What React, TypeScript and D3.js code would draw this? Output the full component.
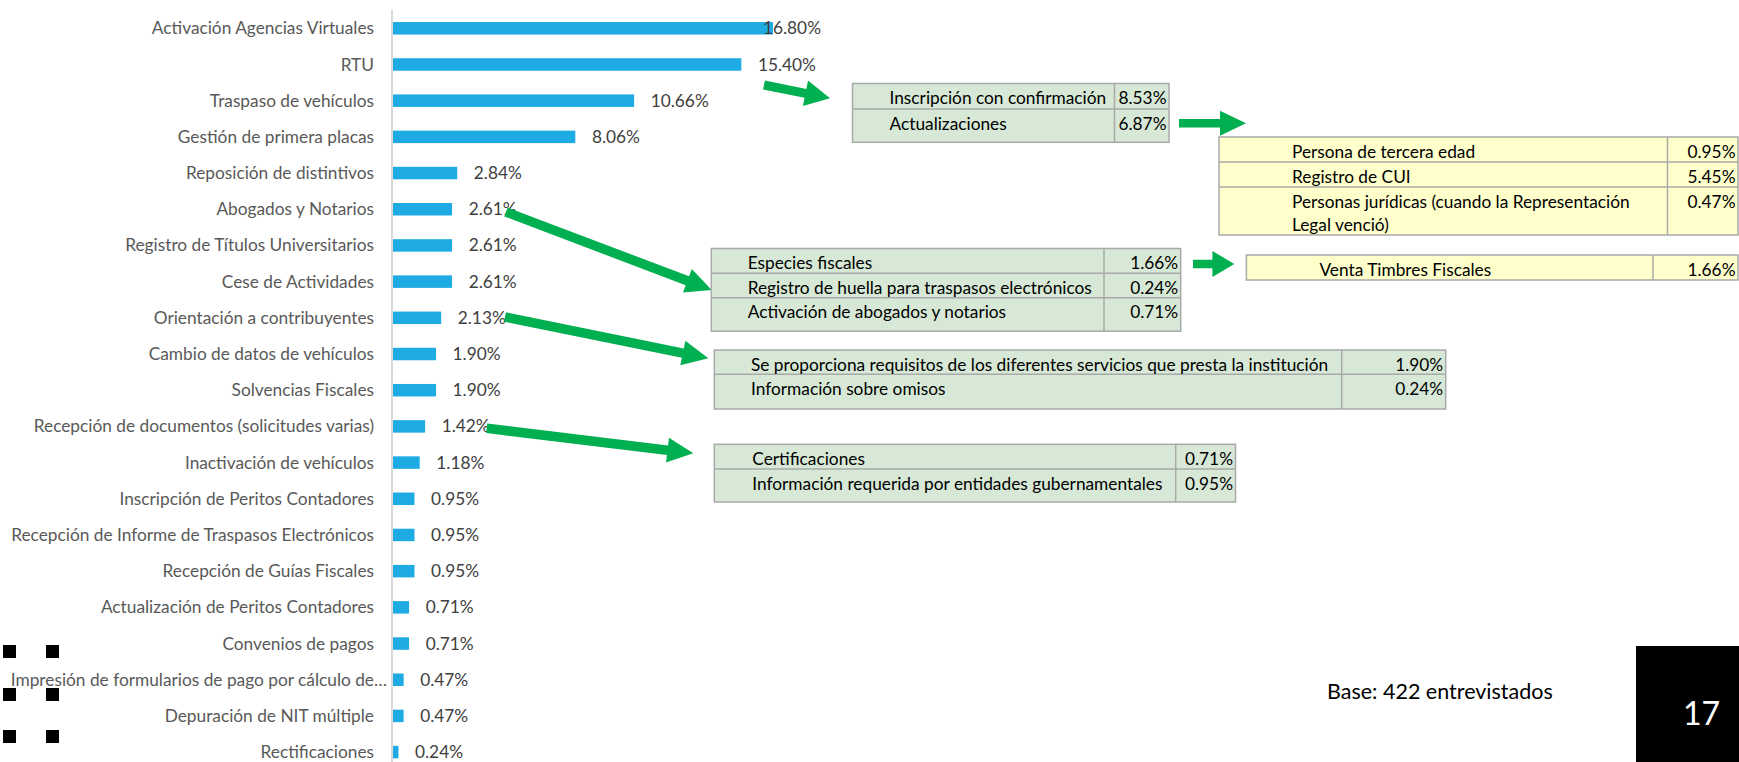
import React from "react";
import * as d3 from "d3";

// ---------- data ----------
const categories = [
  "Activación Agencias Virtuales",
  "RTU",
  "Traspaso de vehículos",
  "Gestión de primera placas",
  "Reposición de distintivos",
  "Abogados y Notarios",
  "Registro de Títulos Universitarios",
  "Cese de Actividades",
  "Orientación a contribuyentes",
  "Cambio de datos de vehículos",
  "Solvencias Fiscales",
  "Recepción de documentos (solicitudes varias)",
  "Inactivación de vehículos",
  "Inscripción de Peritos Contadores",
  "Recepción de Informe de Traspasos Electrónicos",
  "Recepción de Guías Fiscales",
  "Actualización de Peritos Contadores",
  "Convenios de pagos",
  "Impresión de formularios de pago por cálculo de",
  "Depuración de NIT múltiple",
  "Rectificaciones",
];
const values = [16.8, 15.4, 10.66, 8.06, 2.84, 2.61, 2.61, 2.61, 2.13, 1.9, 1.9, 1.42, 1.18, 0.95, 0.95, 0.95, 0.71, 0.71, 0.47, 0.47, 0.24];
const truncatedCategories = ["Impresión de formularios de pago por cálculo de"];

const rtuLabels = ["Inscripción con confirmación", "Actualizaciones"];
const rtuValues = [8.53, 6.87];
const actualizacionesLabels = ["Persona de tercera edad", "Registro de CUI", "Personas jurídicas (cuando la Representación Legal venció)"];
const actualizacionesValues = [0.95, 5.45, 0.47];
const abogadosLabels = ["Especies fiscales", "Registro de huella para traspasos electrónicos", "Activación de abogados y notarios"];
const abogadosValues = [1.66, 0.24, 0.71];
const especiesLabels = ["Venta Timbres Fiscales"];
const especiesValues = [1.66];
const orientacionLabels = ["Se proporciona requisitos de los diferentes servicios que presta la institución", "Información sobre omisos"];
const orientacionValues = [1.9, 0.24];
const recepcionLabels = ["Certificaciones", "Información requerida por entidades gubernamentales"];
const recepcionValues = [0.71, 0.95];

const baseText = "Base: 422 entrevistados";
const pageNumber = "17";

// ---------- style / layout ----------
const W = 1739;
const H = 762;
const FONT = "Lato, 'Open Sans', sans-serif";
const FS = 17.3;
const BAR = "#1eaae2";
const GREEN_FILL = "#d7e9d6";
const YELLOW_FILL = "#ffffcc";
const GRID = "#a9a9a9";
const ARROW = "#00b050";

const fmt = (v: number) => d3.format(".2f")(v) + "%";

type TableSpec = {
  labels: string[];
  values: number[];
  x: number; right: number; col: number; top: number;
  rows: number[]; textOff: number; fill: string; wrap?: number;
};

const tables: TableSpec[] = [
  { labels: rtuLabels, values: rtuValues, x: 852.5, right: 1169, col: 1114.5, top: 83.5, rows: [25.5, 33.3], textOff: 37, fill: GREEN_FILL },
  { labels: actualizacionesLabels, values: actualizacionesValues, x: 1219, right: 1738, col: 1667.5, top: 137, rows: [25, 25, 48], textOff: 73, fill: YELLOW_FILL, wrap: 44 },
  { labels: abogadosLabels, values: abogadosValues, x: 711.3, right: 1180.7, col: 1104, top: 248.5, rows: [24.8, 24.4, 33.5], textOff: 36.4, fill: GREEN_FILL },
  { labels: especiesLabels, values: especiesValues, x: 1246.4, right: 1738, col: 1653, top: 255, rows: [25], textOff: 73, fill: YELLOW_FILL },
  { labels: orientacionLabels, values: orientacionValues, x: 714.3, right: 1445.7, col: 1341.7, top: 350, rows: [24.3, 34.7], textOff: 36.7, fill: GREEN_FILL },
  { labels: recepcionLabels, values: recepcionValues, x: 714.3, right: 1235.5, col: 1175.7, top: 444.3, rows: [24.7, 33], textOff: 38, fill: GREEN_FILL },
];

type ArrowSpec = { x1: number; y1: number; x2: number; y2: number; shaft: number; headW: number; headL: number };
const arrows: ArrowSpec[] = [
  { x1: 764, y1: 85, x2: 830, y2: 98.3, shaft: 9, headW: 26, headL: 25 },
  { x1: 1179, y1: 123.3, x2: 1246, y2: 123.3, shaft: 8.5, headW: 25, headL: 26 },
  { x1: 1193, y1: 264, x2: 1234.4, y2: 264, shaft: 8.5, headW: 26, headL: 22 },
  { x1: 506, y1: 212, x2: 711.7, y2: 290, shaft: 9.5, headW: 25, headL: 26 },
  { x1: 505, y1: 317, x2: 708.3, y2: 358.3, shaft: 9.5, headW: 25, headL: 26 },
  { x1: 486.7, y1: 428.3, x2: 693.3, y2: 453.3, shaft: 9.5, headW: 25, headL: 26 },
];

function arrowPath(a: ArrowSpec) {
  const dx = a.x2 - a.x1, dy = a.y2 - a.y1;
  const L = Math.hypot(dx, dy);
  const ux = dx / L, uy = dy / L;
  const nx = -uy, ny = ux;
  const bx = a.x2 - ux * a.headL, by = a.y2 - uy * a.headL;
  const s = a.shaft / 2, h = a.headW / 2;
  const pts: [number, number][] = [
    [a.x1 + nx * s, a.y1 + ny * s],
    [bx + nx * s, by + ny * s],
    [bx + nx * h, by + ny * h],
    [a.x2, a.y2],
    [bx - nx * h, by - ny * h],
    [bx - nx * s, by - ny * s],
    [a.x1 - nx * s, a.y1 - ny * s],
  ];
  return d3.line()(pts) + "Z";
}

function wrapText(t: string, n?: number): string[] {
  if (!n || t.length <= n) return [t];
  const words = t.split(" ");
  const lines: string[] = [];
  let cur = "";
  for (const w of words) {
    const next = cur ? cur + " " + w : w;
    if (next.length > n && cur) { lines.push(cur); cur = w; } else cur = next;
  }
  if (cur) lines.push(cur);
  return lines;
}

function SubTable({ t }: { t: TableSpec }) {
  const tops: number[] = [];
  let acc = t.top;
  t.rows.forEach((h) => { tops.push(acc); acc += h; });
  const bottom = acc;
  return (
    <g>
      <rect x={t.x} y={t.top} width={t.right - t.x} height={bottom - t.top} fill={t.fill} stroke={GRID} strokeWidth={1.5} />
      {tops.slice(1).map((yy, i) => (
        <line key={i} x1={t.x} x2={t.right} y1={yy} y2={yy} stroke={GRID} strokeWidth={1.5} />
      ))}
      <line x1={t.col} x2={t.col} y1={t.top} y2={bottom} stroke={GRID} strokeWidth={1.5} />
      {t.labels.map((lab, i) => (
        <g key={lab}>
          {wrapText(lab, t.wrap).map((ln, j) => (
            <text key={j} x={t.x + t.textOff} y={tops[i] + 14.5 + j * 23.7} dy="0.35em" fontSize={FS} fill="#000" fontFamily={FONT}>{ln}</text>
          ))}
          <text x={t.right - 2.5} y={tops[i] + 14.5} dy="0.35em" textAnchor="end" fontSize={FS} fill="#000" fontFamily={FONT}>{fmt(t.values[i])}</text>
        </g>
      ))}
    </g>
  );
}

export default function App() {
  const x = d3.scaleLinear().domain([0, 16.8]).range([393, 773]);
  const y = d3.scaleBand<string>().domain(categories).range([10.2, 770.2]).paddingInner(0.655).paddingOuter(0.3275);
  const axisX = 392;
  const labelRight = 374;
  const labelGap = 16.6;
  const plotRight = 821;
  const estLabelW = 54;

  const squares = [
    [3, 645], [46, 645], [3, 688], [46, 688], [3, 730], [46, 730],
  ];

  return (
    <svg width={W} height={H} style={{ position: "fixed", left: 0, top: 0, background: "#fff" }} fontFamily={FONT}>
      <rect x={0} y={0} width={W} height={H} fill="#fff" />
      {/* axis line */}
      <line x1={axisX} x2={axisX} y1={10} y2={H} stroke="#d9d9d9" strokeWidth={2} />
      {/* bars */}
      {categories.map((c, i) => {
        const cy = (y(c) as number) + y.bandwidth() / 2;
        const end = x(values[i]);
        const over = end + labelGap + estLabelW > plotRight;
        const truncated = truncatedCategories.includes(c);
        return (
          <g key={c}>
            <rect x={x(0)} y={y(c)} width={end - x(0)} height={y.bandwidth()} fill={BAR} />
            <text x={labelRight} y={cy} dy="0.35em" textAnchor="end" fontSize={FS} fill="#595959">{c}</text>
            {truncated && (
              <text x={labelRight} y={cy} dy="0.35em" fontSize={FS} fill="#595959">…</text>
            )}
            <text x={over ? plotRight : end + labelGap} y={cy} dy="0.35em" textAnchor={over ? "end" : "start"} fontSize={FS} fill="#404040">{fmt(values[i])}</text>
          </g>
        );
      })}
      {/* arrows */}
      {arrows.map((a, i) => (
        <path key={i} d={arrowPath(a)} fill={ARROW} />
      ))}
      {/* tables */}
      {tables.map((t, i) => <SubTable key={i} t={t} />)}
      {/* base note */}
      <text x={1327} y={691.5} dy="0.35em" fontSize={21.5} fill="#000">{baseText}</text>
      {/* page number box */}
      <rect x={1636} y={646} width={W - 1636} height={H - 646} fill="#000" />
      <text x={1701.5} y={714} dy="0.35em" textAnchor="middle" fontSize={32} fill="#fff">{pageNumber}</text>
      {/* slide handles */}
      {squares.map(([sx, sy], i) => (
        <rect key={i} x={sx} y={sy} width={13} height={13} fill="#000" />
      ))}
    </svg>
  );
}
